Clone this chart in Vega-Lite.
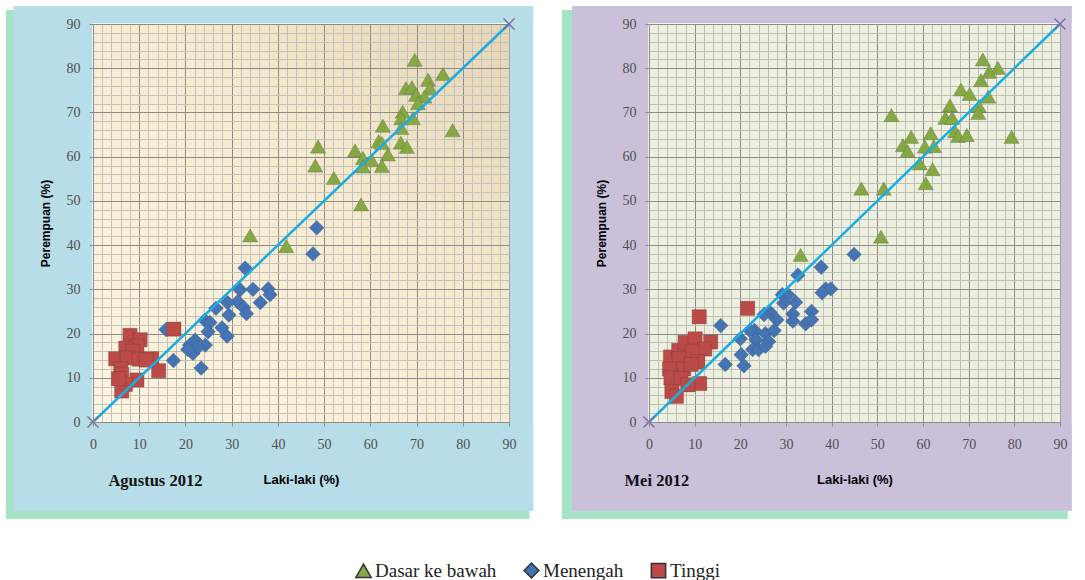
{
"$schema": "https://vega.github.io/schema/vega-lite/v6.json",
"padding": {"left": 5, "top": 6, "right": 5, "bottom": 0},
"background": "white",
"spacing": 140,
"bounds": "flush",
"datasets": {
"garis": [{"laki_laki":0,"perempuan":0},{"laki_laki":90,"perempuan":90}],
"agustus": [
{"laki_laki":69.6,"perempuan":81.9,"pendidikan":"Dasar ke bawah"},
{"laki_laki":75.7,"perempuan":78.7,"pendidikan":"Dasar ke bawah"},
{"laki_laki":72.5,"perempuan":77.4,"pendidikan":"Dasar ke bawah"},
{"laki_laki":67.7,"perempuan":75.5,"pendidikan":"Dasar ke bawah"},
{"laki_laki":69,"perempuan":75.7,"pendidikan":"Dasar ke bawah"},
{"laki_laki":72.9,"perempuan":75.5,"pendidikan":"Dasar ke bawah"},
{"laki_laki":69.9,"perempuan":74,"pendidikan":"Dasar ke bawah"},
{"laki_laki":71.7,"perempuan":73.6,"pendidikan":"Dasar ke bawah"},
{"laki_laki":70.3,"perempuan":72.1,"pendidikan":"Dasar ke bawah"},
{"laki_laki":67,"perempuan":70.2,"pendidikan":"Dasar ke bawah"},
{"laki_laki":66.7,"perempuan":68.7,"pendidikan":"Dasar ke bawah"},
{"laki_laki":69.2,"perempuan":68.7,"pendidikan":"Dasar ke bawah"},
{"laki_laki":62.7,"perempuan":67,"pendidikan":"Dasar ke bawah"},
{"laki_laki":66.7,"perempuan":66.5,"pendidikan":"Dasar ke bawah"},
{"laki_laki":77.8,"perempuan":66,"pendidikan":"Dasar ke bawah"},
{"laki_laki":61.8,"perempuan":63.5,"pendidikan":"Dasar ke bawah"},
{"laki_laki":66.6,"perempuan":63.2,"pendidikan":"Dasar ke bawah"},
{"laki_laki":67.9,"perempuan":62.2,"pendidikan":"Dasar ke bawah"},
{"laki_laki":62.5,"perempuan":63.1,"pendidikan":"Dasar ke bawah"},
{"laki_laki":48.7,"perempuan":62.3,"pendidikan":"Dasar ke bawah"},
{"laki_laki":56.7,"perempuan":61.4,"pendidikan":"Dasar ke bawah"},
{"laki_laki":58.4,"perempuan":59.7,"pendidikan":"Dasar ke bawah"},
{"laki_laki":60.3,"perempuan":59.2,"pendidikan":"Dasar ke bawah"},
{"laki_laki":63.8,"perempuan":60.5,"pendidikan":"Dasar ke bawah"},
{"laki_laki":58.4,"perempuan":57.8,"pendidikan":"Dasar ke bawah"},
{"laki_laki":62.5,"perempuan":57.9,"pendidikan":"Dasar ke bawah"},
{"laki_laki":48.1,"perempuan":58,"pendidikan":"Dasar ke bawah"},
{"laki_laki":52.1,"perempuan":55.2,"pendidikan":"Dasar ke bawah"},
{"laki_laki":58,"perempuan":49.2,"pendidikan":"Dasar ke bawah"},
{"laki_laki":34,"perempuan":42.2,"pendidikan":"Dasar ke bawah"},
{"laki_laki":41.8,"perempuan":39.8,"pendidikan":"Dasar ke bawah"},
{"laki_laki":48.4,"perempuan":43.9,"pendidikan":"Menengah"},
{"laki_laki":47.6,"perempuan":38,"pendidikan":"Menengah"},
{"laki_laki":32.9,"perempuan":34.8,"pendidikan":"Menengah"},
{"laki_laki":31.8,"perempuan":29.9,"pendidikan":"Menengah"},
{"laki_laki":34.6,"perempuan":30,"pendidikan":"Menengah"},
{"laki_laki":37.9,"perempuan":30.1,"pendidikan":"Menengah"},
{"laki_laki":38.3,"perempuan":28.8,"pendidikan":"Menengah"},
{"laki_laki":31.3,"perempuan":27.2,"pendidikan":"Menengah"},
{"laki_laki":29.1,"perempuan":27,"pendidikan":"Menengah"},
{"laki_laki":36.2,"perempuan":27,"pendidikan":"Menengah"},
{"laki_laki":32.6,"perempuan":25.9,"pendidikan":"Menengah"},
{"laki_laki":33.2,"perempuan":24.5,"pendidikan":"Menengah"},
{"laki_laki":26.6,"perempuan":25.7,"pendidikan":"Menengah"},
{"laki_laki":29.4,"perempuan":24.2,"pendidikan":"Menengah"},
{"laki_laki":24.2,"perempuan":23,"pendidikan":"Menengah"},
{"laki_laki":25.3,"perempuan":22.5,"pendidikan":"Menengah"},
{"laki_laki":24.9,"perempuan":20.4,"pendidikan":"Menengah"},
{"laki_laki":27.9,"perempuan":21.3,"pendidikan":"Menengah"},
{"laki_laki":29,"perempuan":19.4,"pendidikan":"Menengah"},
{"laki_laki":22.1,"perempuan":18.5,"pendidikan":"Menengah"},
{"laki_laki":20.9,"perempuan":17.4,"pendidikan":"Menengah"},
{"laki_laki":24.3,"perempuan":17.4,"pendidikan":"Menengah"},
{"laki_laki":21.6,"perempuan":15.5,"pendidikan":"Menengah"},
{"laki_laki":17.4,"perempuan":13.9,"pendidikan":"Menengah"},
{"laki_laki":23.4,"perempuan":12.2,"pendidikan":"Menengah"},
{"laki_laki":15.8,"perempuan":20.9,"pendidikan":"Menengah"},
{"laki_laki":22.7,"perempuan":16.9,"pendidikan":"Menengah"},
{"laki_laki":20.5,"perempuan":16.4,"pendidikan":"Menengah"},
{"laki_laki":17.5,"perempuan":21,"pendidikan":"Tinggi"},
{"laki_laki":8,"perempuan":19.6,"pendidikan":"Tinggi"},
{"laki_laki":10.2,"perempuan":18.6,"pendidikan":"Tinggi"},
{"laki_laki":9.5,"perempuan":17.2,"pendidikan":"Tinggi"},
{"laki_laki":7.1,"perempuan":16.7,"pendidikan":"Tinggi"},
{"laki_laki":8.6,"perempuan":16,"pendidikan":"Tinggi"},
{"laki_laki":4.9,"perempuan":14.3,"pendidikan":"Tinggi"},
{"laki_laki":7.4,"perempuan":14.5,"pendidikan":"Tinggi"},
{"laki_laki":10,"perempuan":14.2,"pendidikan":"Tinggi"},
{"laki_laki":12.7,"perempuan":14.3,"pendidikan":"Tinggi"},
{"laki_laki":6,"perempuan":12,"pendidikan":"Tinggi"},
{"laki_laki":14.2,"perempuan":11.6,"pendidikan":"Tinggi"},
{"laki_laki":6.2,"perempuan":10.8,"pendidikan":"Tinggi"},
{"laki_laki":9.5,"perempuan":9.5,"pendidikan":"Tinggi"},
{"laki_laki":7,"perempuan":8.5,"pendidikan":"Tinggi"},
{"laki_laki":6.2,"perempuan":7,"pendidikan":"Tinggi"},
{"laki_laki":11.5,"perempuan":14,"pendidikan":"Tinggi"},
{"laki_laki":5.5,"perempuan":9.8,"pendidikan":"Tinggi"}
],
"mei": [
{"laki_laki":73.1,"perempuan":82,"pendidikan":"Dasar ke bawah"},
{"laki_laki":76.4,"perempuan":80.1,"pendidikan":"Dasar ke bawah"},
{"laki_laki":74.5,"perempuan":79.2,"pendidikan":"Dasar ke bawah"},
{"laki_laki":72.7,"perempuan":77.3,"pendidikan":"Dasar ke bawah"},
{"laki_laki":68.3,"perempuan":75.2,"pendidikan":"Dasar ke bawah"},
{"laki_laki":70.2,"perempuan":74.2,"pendidikan":"Dasar ke bawah"},
{"laki_laki":74.3,"perempuan":73.6,"pendidikan":"Dasar ke bawah"},
{"laki_laki":65.9,"perempuan":71.6,"pendidikan":"Dasar ke bawah"},
{"laki_laki":72.2,"perempuan":71.5,"pendidikan":"Dasar ke bawah"},
{"laki_laki":72.1,"perempuan":69.9,"pendidikan":"Dasar ke bawah"},
{"laki_laki":53.1,"perempuan":69.4,"pendidikan":"Dasar ke bawah"},
{"laki_laki":64.9,"perempuan":68.8,"pendidikan":"Dasar ke bawah"},
{"laki_laki":66.4,"perempuan":68.8,"pendidikan":"Dasar ke bawah"},
{"laki_laki":67,"perempuan":65.8,"pendidikan":"Dasar ke bawah"},
{"laki_laki":67.7,"perempuan":64.7,"pendidikan":"Dasar ke bawah"},
{"laki_laki":69.6,"perempuan":64.9,"pendidikan":"Dasar ke bawah"},
{"laki_laki":79.4,"perempuan":64.5,"pendidikan":"Dasar ke bawah"},
{"laki_laki":57.4,"perempuan":64.5,"pendidikan":"Dasar ke bawah"},
{"laki_laki":61.7,"perempuan":65.3,"pendidikan":"Dasar ke bawah"},
{"laki_laki":55.6,"perempuan":62.6,"pendidikan":"Dasar ke bawah"},
{"laki_laki":56.6,"perempuan":61.3,"pendidikan":"Dasar ke bawah"},
{"laki_laki":60.4,"perempuan":62.3,"pendidikan":"Dasar ke bawah"},
{"laki_laki":62.4,"perempuan":62.4,"pendidikan":"Dasar ke bawah"},
{"laki_laki":59.3,"perempuan":58.5,"pendidikan":"Dasar ke bawah"},
{"laki_laki":62.1,"perempuan":57.2,"pendidikan":"Dasar ke bawah"},
{"laki_laki":46.5,"perempuan":52.8,"pendidikan":"Dasar ke bawah"},
{"laki_laki":51.4,"perempuan":52.8,"pendidikan":"Dasar ke bawah"},
{"laki_laki":60.6,"perempuan":54,"pendidikan":"Dasar ke bawah"},
{"laki_laki":50.8,"perempuan":41.9,"pendidikan":"Dasar ke bawah"},
{"laki_laki":33.2,"perempuan":37.8,"pendidikan":"Dasar ke bawah"},
{"laki_laki":44.9,"perempuan":37.9,"pendidikan":"Menengah"},
{"laki_laki":37.7,"perempuan":35,"pendidikan":"Menengah"},
{"laki_laki":32.6,"perempuan":33.2,"pendidikan":"Menengah"},
{"laki_laki":38.7,"perempuan":30.1,"pendidikan":"Menengah"},
{"laki_laki":39.8,"perempuan":30.1,"pendidikan":"Menengah"},
{"laki_laki":37.9,"perempuan":29.2,"pendidikan":"Menengah"},
{"laki_laki":29.2,"perempuan":28.8,"pendidikan":"Menengah"},
{"laki_laki":30.4,"perempuan":28.8,"pendidikan":"Menengah"},
{"laki_laki":32.1,"perempuan":27.1,"pendidikan":"Menengah"},
{"laki_laki":29.5,"perempuan":26.9,"pendidikan":"Menengah"},
{"laki_laki":35.6,"perempuan":25,"pendidikan":"Menengah"},
{"laki_laki":26.5,"perempuan":24.8,"pendidikan":"Menengah"},
{"laki_laki":25.2,"perempuan":24.3,"pendidikan":"Menengah"},
{"laki_laki":28,"perempuan":23.1,"pendidikan":"Menengah"},
{"laki_laki":31.5,"perempuan":24.4,"pendidikan":"Menengah"},
{"laki_laki":31.5,"perempuan":22.8,"pendidikan":"Menengah"},
{"laki_laki":34.3,"perempuan":22.2,"pendidikan":"Menengah"},
{"laki_laki":35.6,"perempuan":23.1,"pendidikan":"Menengah"},
{"laki_laki":15.7,"perempuan":21.8,"pendidikan":"Menengah"},
{"laki_laki":23.1,"perempuan":20.7,"pendidikan":"Menengah"},
{"laki_laki":22.1,"perempuan":20.7,"pendidikan":"Menengah"},
{"laki_laki":25.5,"perempuan":20,"pendidikan":"Menengah"},
{"laki_laki":27.4,"perempuan":20.7,"pendidikan":"Menengah"},
{"laki_laki":20,"perempuan":18.8,"pendidikan":"Menengah"},
{"laki_laki":23.4,"perempuan":18.6,"pendidikan":"Menengah"},
{"laki_laki":26.2,"perempuan":18.2,"pendidikan":"Menengah"},
{"laki_laki":22.7,"perempuan":16.4,"pendidikan":"Menengah"},
{"laki_laki":24,"perempuan":16.4,"pendidikan":"Menengah"},
{"laki_laki":25.5,"perempuan":17.1,"pendidikan":"Menengah"},
{"laki_laki":20.2,"perempuan":15.2,"pendidikan":"Menengah"},
{"laki_laki":16.7,"perempuan":13,"pendidikan":"Menengah"},
{"laki_laki":20.8,"perempuan":12.7,"pendidikan":"Menengah"},
{"laki_laki":21.6,"perempuan":25.7,"pendidikan":"Tinggi"},
{"laki_laki":11,"perempuan":23.8,"pendidikan":"Tinggi"},
{"laki_laki":4.7,"perempuan":14.7,"pendidikan":"Tinggi"},
{"laki_laki":6.5,"perempuan":16.2,"pendidikan":"Tinggi"},
{"laki_laki":7.9,"perempuan":18,"pendidikan":"Tinggi"},
{"laki_laki":10.1,"perempuan":18.8,"pendidikan":"Tinggi"},
{"laki_laki":13.5,"perempuan":18.1,"pendidikan":"Tinggi"},
{"laki_laki":12.2,"perempuan":16.5,"pendidikan":"Tinggi"},
{"laki_laki":9.4,"perempuan":16,"pendidikan":"Tinggi"},
{"laki_laki":6.6,"perempuan":14.3,"pendidikan":"Tinggi"},
{"laki_laki":10.7,"perempuan":13.6,"pendidikan":"Tinggi"},
{"laki_laki":4.5,"perempuan":12,"pendidikan":"Tinggi"},
{"laki_laki":7.6,"perempuan":12,"pendidikan":"Tinggi"},
{"laki_laki":9.2,"perempuan":13,"pendidikan":"Tinggi"},
{"laki_laki":4.8,"perempuan":10,"pendidikan":"Tinggi"},
{"laki_laki":7,"perempuan":9.8,"pendidikan":"Tinggi"},
{"laki_laki":11.1,"perempuan":8.7,"pendidikan":"Tinggi"},
{"laki_laki":5,"perempuan":6.9,"pendidikan":"Tinggi"},
{"laki_laki":6,"perempuan":5.8,"pendidikan":"Tinggi"},
{"laki_laki":8.5,"perempuan":8.4,"pendidikan":"Tinggi"}
]
},
"hconcat": [
{
"width": 416, "height": 398,
"view": {"fill": {"gradient": "linear", "x1": 0, "y1": 1, "x2": 1, "y2": 0, "stops": [{"offset": 0, "color": "#FDF5E1"}, {"offset": 0.6, "color": "#F6EACE"}, {"offset": 1, "color": "#E4D5B6"}]}, "stroke": null},
"resolve": {"axis": {"x": "independent", "y": "independent"}},
"layer": [
{"data": {"values": [{}]}, "mark": {"type": "rect", "fill": "#A6E4C6"}, "encoding": {"x": {"datum": -18.84, "type": "quantitative", "scale": {"domain": [0, 90], "nice": false, "zero": false}, "axis": null}, "x2": {"datum": -17.0}, "y": {"datum": -21.94, "type": "quantitative", "scale": {"domain": [0, 90], "nice": false, "zero": false}, "axis": null}, "y2": {"datum": 93.17}}},
{"data": {"values": [{}]}, "mark": {"type": "rect", "fill": "#A6E4C6"}, "encoding": {"x": {"datum": -18.84, "type": "quantitative", "scale": {"domain": [0, 90], "nice": false, "zero": false}, "axis": null}, "x2": {"datum": 94.43}, "y": {"datum": -21.94, "type": "quantitative", "scale": {"domain": [0, 90], "nice": false, "zero": false}, "axis": null}, "y2": {"datum": -19.9}}},
{"data": {"values": [{}]}, "mark": {"type": "rect", "fill": "#B7DDE8"}, "encoding": {"x": {"datum": -17.18, "type": "quantitative", "scale": {"domain": [0, 90], "nice": false, "zero": false}, "axis": null}, "x2": {"datum": -0.15}, "y": {"datum": -20.06, "type": "quantitative", "scale": {"domain": [0, 90], "nice": false, "zero": false}, "axis": null}, "y2": {"datum": 94.07}}},
{"data": {"values": [{}]}, "mark": {"type": "rect", "fill": "#B7DDE8"}, "encoding": {"x": {"datum": 90.15, "type": "quantitative", "scale": {"domain": [0, 90], "nice": false, "zero": false}, "axis": null}, "x2": {"datum": 95.23}, "y": {"datum": -20.06, "type": "quantitative", "scale": {"domain": [0, 90], "nice": false, "zero": false}, "axis": null}, "y2": {"datum": 94.07}}},
{"data": {"values": [{}]}, "mark": {"type": "rect", "fill": "#B7DDE8"}, "encoding": {"x": {"datum": -17.18, "type": "quantitative", "scale": {"domain": [0, 90], "nice": false, "zero": false}, "axis": null}, "x2": {"datum": 95.23}, "y": {"datum": 90.15, "type": "quantitative", "scale": {"domain": [0, 90], "nice": false, "zero": false}, "axis": null}, "y2": {"datum": 94.07}}},
{"data": {"values": [{}]}, "mark": {"type": "rect", "fill": "#B7DDE8"}, "encoding": {"x": {"datum": -17.18, "type": "quantitative", "scale": {"domain": [0, 90], "nice": false, "zero": false}, "axis": null}, "x2": {"datum": 95.23}, "y": {"datum": -20.06, "type": "quantitative", "scale": {"domain": [0, 90], "nice": false, "zero": false}, "axis": null}, "y2": {"datum": -0.15}}},
{"data": {"name": "agustus"},
 "mark": {"type": "point", "filled": true, "opacity": 1, "stroke": "#333333", "strokeOpacity": 0.35, "strokeWidth": 0.6},
 "encoding": {
  "x": {"field": "laki_laki", "type": "quantitative", "scale": {"domain": [0, 90], "nice": false, "zero": false}, "axis": {"orient": "bottom", "values": [0,2,4,6,8,10,12,14,16,18,20,22,24,26,28,30,32,34,36,38,40,42,44,46,48,50,52,54,56,58,60,62,64,66,68,70,72,74,76,78,80,82,84,86,88,90], "grid": true, "gridColor": {"condition": {"test": "datum.value % 10 === 0", "value": "#8C8C8C"}, "value": "#C4C2BC"}, "gridWidth": 1, "labels": false, "ticks": false, "domain": false, "title": null, "zindex": 0}},
  "y": {"field": "perempuan", "type": "quantitative", "scale": {"domain": [0, 90], "nice": false, "zero": false}, "axis": {"orient": "left", "values": [0,2,4,6,8,10,12,14,16,18,20,22,24,26,28,30,32,34,36,38,40,42,44,46,48,50,52,54,56,58,60,62,64,66,68,70,72,74,76,78,80,82,84,86,88,90], "grid": true, "gridColor": {"condition": {"test": "datum.value % 10 === 0", "value": "#8C8C8C"}, "value": "#C4C2BC"}, "gridWidth": 1, "labels": false, "ticks": false, "domain": false, "title": null, "zindex": 0}},
  "color": {"field": "pendidikan", "type": "nominal", "scale": {"domain": ["Dasar ke bawah", "Menengah", "Tinggi"], "range": ["#86A844", "#4574B4", "#BC4A46"]}, "legend": {"title": null, "orient": "none", "legendX": 261, "legendY": 537, "direction": "horizontal", "symbolSize": 300, "labelFont": "Liberation Serif", "labelFontSize": 19, "labelColor": "#222222", "columnPadding": 24, "labelOffset": 2}},
  "shape": {"field": "pendidikan", "type": "nominal", "scale": {"domain": ["Dasar ke bawah", "Menengah", "Tinggi"], "range": ["triangle-up", "diamond", "square"]}, "legend": {"title": null, "orient": "none", "legendX": 261, "legendY": 537, "direction": "horizontal", "symbolSize": 300, "labelFont": "Liberation Serif", "labelFontSize": 19, "labelColor": "#222222", "columnPadding": 24, "labelOffset": 2}},
  "size": {"field": "pendidikan", "type": "nominal", "scale": {"domain": ["Dasar ke bawah", "Menengah", "Tinggi"], "range": [235, 205, 185]}, "legend": null}
 }},
{"data": {"name": "garis"}, "mark": {"type": "line", "color": "#1AADE4", "strokeWidth": 2.5}, "encoding": {"x": {"field": "laki_laki", "type": "quantitative", "scale": {"domain": [0, 90], "nice": false, "zero": false}, "axis": null}, "y": {"field": "perempuan", "type": "quantitative", "scale": {"domain": [0, 90], "nice": false, "zero": false}, "axis": null}}},
{"data": {"name": "garis"}, "mark": {"type": "point", "shape": "M-1,-1L1,1M-1,1L1,-1", "filled": false, "opacity": 1, "stroke": "#8064A2", "strokeWidth": 1.3, "size": 121}, "encoding": {"x": {"field": "laki_laki", "type": "quantitative", "scale": {"domain": [0, 90], "nice": false, "zero": false}, "axis": null}, "y": {"field": "perempuan", "type": "quantitative", "scale": {"domain": [0, 90], "nice": false, "zero": false}, "axis": null}}},
{"data": {"values": [{}]},
 "mark": {"type": "text", "text": "Agustus 2012", "font": "Liberation Serif", "fontSize": 16.5, "fontWeight": "bold", "align": "left", "baseline": "middle", "color": "#111111"},
 "encoding": {
  "x": {"datum": 3.34, "type": "quantitative", "scale": {"domain": [0, 90], "nice": false, "zero": false}, "axis": {"orient": "bottom", "values": [0,10,20,30,40,50,60,70,80,90], "grid": false, "title": "Laki-laki (%)", "labelFlush": false, "labelFont": "Liberation Serif", "labelFontSize": 14, "labelColor": "#505050", "labelPadding": 11, "ticks": true, "tickSize": 4, "tickColor": "#8C8C8C", "domain": true, "domainColor": "#8C8C8C", "titleFont": "Liberation Sans", "titleFontSize": 13, "titleFontWeight": "bold", "titleColor": "#000000", "titlePadding": 22, "zindex": 1}},
  "y": {"datum": -13.27, "type": "quantitative", "scale": {"domain": [0, 90], "nice": false, "zero": false}, "axis": {"orient": "left", "values": [0,10,20,30,40,50,60,70,80,90], "grid": false, "title": "Perempuan (%)", "labelFont": "Liberation Serif", "labelFontSize": 14, "labelColor": "#505050", "labelPadding": 9, "ticks": true, "tickSize": 4, "tickColor": "#8C8C8C", "domain": true, "domainColor": "#8C8C8C", "titleFont": "Liberation Sans", "titleFontSize": 12, "titleFontWeight": "bold", "titleColor": "#000000", "titlePadding": 14, "zindex": 1}}
 }}
]
},
{
"width": 411, "height": 398,
"view": {"fill": "#EEF0DF", "stroke": null},
"resolve": {"axis": {"x": "independent", "y": "independent"}},
"layer": [
{"data": {"values": [{}]}, "mark": {"type": "rect", "fill": "#A6E4C6"}, "encoding": {"x": {"datum": -19.04, "type": "quantitative", "scale": {"domain": [0, 90], "nice": false, "zero": false}, "axis": null}, "x2": {"datum": -16.7}, "y": {"datum": -21.94, "type": "quantitative", "scale": {"domain": [0, 90], "nice": false, "zero": false}, "axis": null}, "y2": {"datum": 93.17}}},
{"data": {"values": [{}]}, "mark": {"type": "rect", "fill": "#A6E4C6"}, "encoding": {"x": {"datum": -19.04, "type": "quantitative", "scale": {"domain": [0, 90], "nice": false, "zero": false}, "axis": null}, "x2": {"datum": 91.7}, "y": {"datum": -21.94, "type": "quantitative", "scale": {"domain": [0, 90], "nice": false, "zero": false}, "axis": null}, "y2": {"datum": -19.9}}},
{"data": {"values": [{}]}, "mark": {"type": "rect", "fill": "#CBC0DA"}, "encoding": {"x": {"datum": -16.85, "type": "quantitative", "scale": {"domain": [0, 90], "nice": false, "zero": false}, "axis": null}, "x2": {"datum": -0.15}, "y": {"datum": -20.06, "type": "quantitative", "scale": {"domain": [0, 90], "nice": false, "zero": false}, "axis": null}, "y2": {"datum": 94.07}}},
{"data": {"values": [{}]}, "mark": {"type": "rect", "fill": "#CBC0DA"}, "encoding": {"x": {"datum": 90.15, "type": "quantitative", "scale": {"domain": [0, 90], "nice": false, "zero": false}, "axis": null}, "x2": {"datum": 92.56}, "y": {"datum": -20.06, "type": "quantitative", "scale": {"domain": [0, 90], "nice": false, "zero": false}, "axis": null}, "y2": {"datum": 94.07}}},
{"data": {"values": [{}]}, "mark": {"type": "rect", "fill": "#CBC0DA"}, "encoding": {"x": {"datum": -16.85, "type": "quantitative", "scale": {"domain": [0, 90], "nice": false, "zero": false}, "axis": null}, "x2": {"datum": 92.56}, "y": {"datum": 90.15, "type": "quantitative", "scale": {"domain": [0, 90], "nice": false, "zero": false}, "axis": null}, "y2": {"datum": 94.07}}},
{"data": {"values": [{}]}, "mark": {"type": "rect", "fill": "#CBC0DA"}, "encoding": {"x": {"datum": -16.85, "type": "quantitative", "scale": {"domain": [0, 90], "nice": false, "zero": false}, "axis": null}, "x2": {"datum": 92.56}, "y": {"datum": -20.06, "type": "quantitative", "scale": {"domain": [0, 90], "nice": false, "zero": false}, "axis": null}, "y2": {"datum": -0.15}}},
{"data": {"name": "mei"},
 "mark": {"type": "point", "filled": true, "opacity": 1, "stroke": "#333333", "strokeOpacity": 0.35, "strokeWidth": 0.6},
 "encoding": {
  "x": {"field": "laki_laki", "type": "quantitative", "scale": {"domain": [0, 90], "nice": false, "zero": false}, "axis": {"orient": "bottom", "values": [0,2,4,6,8,10,12,14,16,18,20,22,24,26,28,30,32,34,36,38,40,42,44,46,48,50,52,54,56,58,60,62,64,66,68,70,72,74,76,78,80,82,84,86,88,90], "grid": true, "gridColor": {"condition": {"test": "datum.value % 10 === 0", "value": "#8C8C8C"}, "value": "#BFC1B8"}, "gridWidth": 1, "labels": false, "ticks": false, "domain": false, "title": null, "zindex": 0}},
  "y": {"field": "perempuan", "type": "quantitative", "scale": {"domain": [0, 90], "nice": false, "zero": false}, "axis": {"orient": "left", "values": [0,2,4,6,8,10,12,14,16,18,20,22,24,26,28,30,32,34,36,38,40,42,44,46,48,50,52,54,56,58,60,62,64,66,68,70,72,74,76,78,80,82,84,86,88,90], "grid": true, "gridColor": {"condition": {"test": "datum.value % 10 === 0", "value": "#8C8C8C"}, "value": "#BFC1B8"}, "gridWidth": 1, "labels": false, "ticks": false, "domain": false, "title": null, "zindex": 0}},
  "color": {"field": "pendidikan", "type": "nominal", "scale": {"domain": ["Dasar ke bawah", "Menengah", "Tinggi"], "range": ["#86A844", "#4574B4", "#BC4A46"]}, "legend": {"title": null, "orient": "none", "legendX": 261, "legendY": 537, "direction": "horizontal", "symbolSize": 300, "labelFont": "Liberation Serif", "labelFontSize": 19, "labelColor": "#222222", "columnPadding": 24, "labelOffset": 2}},
  "shape": {"field": "pendidikan", "type": "nominal", "scale": {"domain": ["Dasar ke bawah", "Menengah", "Tinggi"], "range": ["triangle-up", "diamond", "square"]}, "legend": {"title": null, "orient": "none", "legendX": 261, "legendY": 537, "direction": "horizontal", "symbolSize": 300, "labelFont": "Liberation Serif", "labelFontSize": 19, "labelColor": "#222222", "columnPadding": 24, "labelOffset": 2}},
  "size": {"field": "pendidikan", "type": "nominal", "scale": {"domain": ["Dasar ke bawah", "Menengah", "Tinggi"], "range": [235, 205, 185]}, "legend": null}
 }},
{"data": {"name": "garis"}, "mark": {"type": "line", "color": "#1AADE4", "strokeWidth": 2.5}, "encoding": {"x": {"field": "laki_laki", "type": "quantitative", "scale": {"domain": [0, 90], "nice": false, "zero": false}, "axis": null}, "y": {"field": "perempuan", "type": "quantitative", "scale": {"domain": [0, 90], "nice": false, "zero": false}, "axis": null}}},
{"data": {"name": "garis"}, "mark": {"type": "point", "shape": "M-1,-1L1,1M-1,1L1,-1", "filled": false, "opacity": 1, "stroke": "#8064A2", "strokeWidth": 1.3, "size": 121}, "encoding": {"x": {"field": "laki_laki", "type": "quantitative", "scale": {"domain": [0, 90], "nice": false, "zero": false}, "axis": null}, "y": {"field": "perempuan", "type": "quantitative", "scale": {"domain": [0, 90], "nice": false, "zero": false}, "axis": null}}},
{"data": {"values": [{}]},
 "mark": {"type": "text", "text": "Mei 2012", "font": "Liberation Serif", "fontSize": 16.5, "fontWeight": "bold", "align": "left", "baseline": "middle", "color": "#111111"},
 "encoding": {
  "x": {"datum": -5.36, "type": "quantitative", "scale": {"domain": [0, 90], "nice": false, "zero": false}, "axis": {"orient": "bottom", "values": [0,10,20,30,40,50,60,70,80,90], "grid": false, "title": "Laki-laki (%)", "labelFlush": false, "labelFont": "Liberation Serif", "labelFontSize": 14, "labelColor": "#505050", "labelPadding": 11, "ticks": true, "tickSize": 4, "tickColor": "#8C8C8C", "domain": true, "domainColor": "#8C8C8C", "titleFont": "Liberation Sans", "titleFontSize": 13, "titleFontWeight": "bold", "titleColor": "#000000", "titlePadding": 22, "zindex": 1}},
  "y": {"datum": -13.27, "type": "quantitative", "scale": {"domain": [0, 90], "nice": false, "zero": false}, "axis": {"orient": "left", "values": [0,10,20,30,40,50,60,70,80,90], "grid": false, "title": "Perempuan (%)", "labelFont": "Liberation Serif", "labelFontSize": 14, "labelColor": "#505050", "labelPadding": 9, "ticks": true, "tickSize": 4, "tickColor": "#8C8C8C", "domain": true, "domainColor": "#8C8C8C", "titleFont": "Liberation Sans", "titleFontSize": 12, "titleFontWeight": "bold", "titleColor": "#000000", "titlePadding": 14, "zindex": 1}}
 }}
]
}
],
"config": {"view": {"stroke": null}}
}
